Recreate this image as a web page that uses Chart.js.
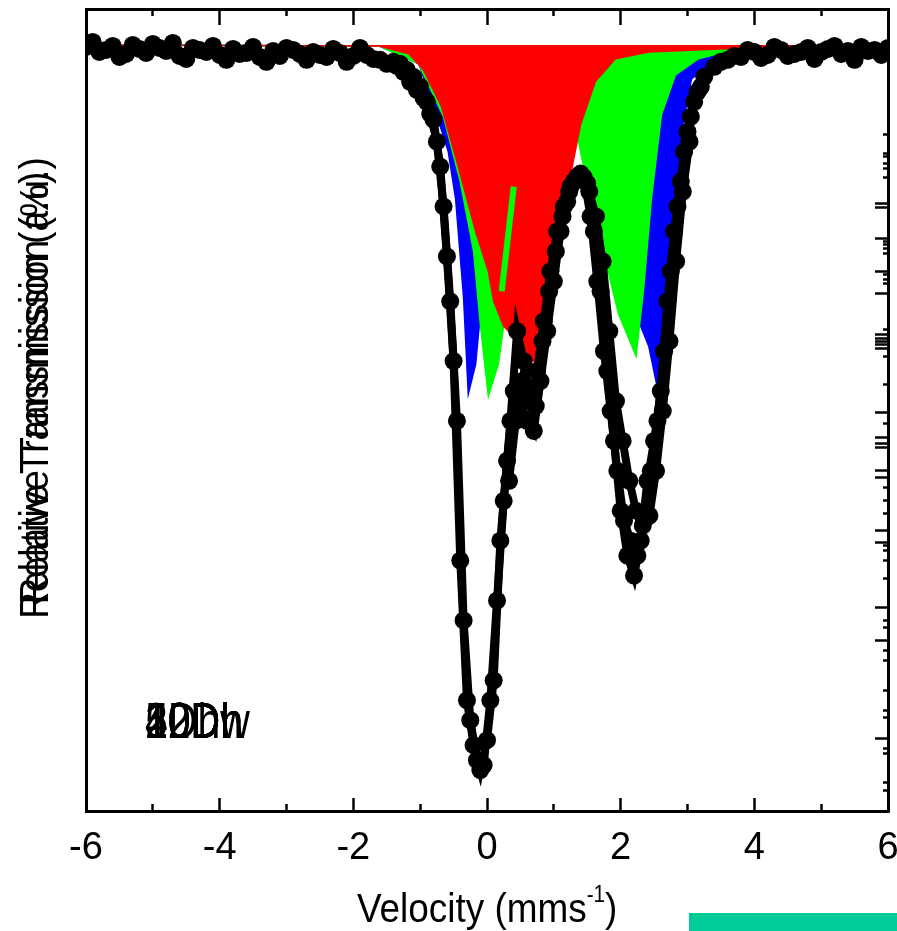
<!DOCTYPE html>
<html>
<head>
<meta charset="utf-8">
<script src="https://cdn.jsdelivr.net/npm/chart.js@4.4.0/dist/chart.umd.min.js"></script>
<style>
  body { margin: 0; background: #fff; }
  #wrap { position: relative; width: 897px; height: 931px; }
  #bar { position: absolute; left: 689px; top: 913px; width: 208px; height: 18px; background: #00cc99; }
</style>
</head>
<body>
<div id="wrap">
  <canvas id="spectrum"></canvas>
  <div id="bar"></div>
</div>
<script>
// measured spectrum, overlaid sweeps (velocity mm/s, relative transmission %)
const velA = [-6.0,-5.8,-5.6,-5.4,-5.2,-5.0,-4.8,-4.6,-4.4,-4.2,-4.0,-3.8,-3.6,-3.4,-3.2,-3.0,-2.8,-2.6,-2.4,-2.2,-2.0,-1.8,-1.6,-1.4,
  -1.3,-1.2,-1.1,-1.0,-0.9,-0.8,-0.7,-0.6,-0.5,-0.4,-0.3,-0.2,-0.1,0.0,0.1,0.2,0.3,0.4,0.5,0.6,0.7,0.8,0.9,1.0,1.1,1.2,1.3,1.4,1.5,1.6,1.7,1.8,1.9,2.0,2.1,2.2,2.3,2.4,2.5,2.6,2.7,2.8,2.9,3.0,3.1,3.2,
  3.4,3.6,3.8,4.0,4.2,4.4,4.6,4.8,5.0,5.2,5.4,5.6,5.8,6.0];
const transA = [99.96,99.86,99.98,99.82,99.92,100.02,99.88,99.78,99.94,99.86,99.80,99.92,99.84,99.76,99.88,99.94,99.82,99.86,99.76,99.84,99.78,99.80,99.70,99.66,
  99.62,99.50,99.36,99.16,98.86,98.50,97.56,95.76,93.66,89.66,86.86,85.96,85.46,86.06,87.26,90.06,91.66,93.06,92.86,92.46,92.26,93.26,94.26,95.26,96.26,96.86,97.26,97.42,97.22,96.26,95.06,93.46,92.06,90.66,89.76,89.36,90.06,91.26,92.06,93.06,94.86,96.26,97.26,98.26,98.86,99.16,
  99.56,99.70,99.76,99.86,99.80,99.90,99.82,99.94,99.86,99.98,99.88,99.96,99.90,99.94];

const velB = [-5.9,-5.7,-5.5,-5.3,-5.1,-4.9,-4.7,-4.5,-4.3,-4.1,-3.9,-3.7,-3.5,-3.3,-3.1,-2.9,-2.7,-2.5,-2.3,-2.1,-1.9,-1.7,-1.5,
  -1.35,-1.25,-1.15,-1.05,-0.95,-0.85,-0.75,-0.65,-0.55,-0.45,-0.35,-0.25,-0.15,-0.05,0.05,0.15,0.25,0.35,0.45,0.55,0.65,0.75,0.85,0.95,1.05,1.15,1.25,1.35,1.45,1.55,1.65,1.75,1.85,1.95,2.05,2.15,2.25,2.35,2.45,2.55,2.65,2.75,2.85,2.95,3.05,3.15,3.25,
  3.5,3.7,3.9,4.1,4.3,4.5,4.7,4.9,5.1,5.3,5.5,5.7,5.9];
const transB = [100.06,99.90,99.76,100.00,99.84,99.94,100.04,99.72,99.90,99.98,99.70,99.82,99.96,99.66,99.78,99.90,99.70,99.80,99.92,99.66,99.94,99.72,99.62,
  99.58,99.46,99.26,99.10,98.94,98.62,98.06,96.76,94.86,92.46,88.46,86.46,85.66,85.56,86.86,88.86,90.86,92.46,94.26,93.66,92.86,93.46,94.46,95.46,96.26,96.76,97.16,97.36,97.34,96.56,95.26,93.86,92.66,91.46,90.46,90.06,89.76,90.46,91.46,92.46,93.86,95.46,96.76,97.86,98.56,99.06,99.36,
  99.66,99.78,99.90,99.74,99.96,99.78,99.86,99.72,99.92,99.82,99.70,99.88,99.80];

const velC = [0.33,0.43,0.53,0.63,0.73,0.83,0.93,1.03,1.13,1.23,1.33,1.43,1.53,1.63,1.73,1.83,1.93,2.03,2.13,2.23,2.33,2.43,2.53,2.63,2.73,2.83,2.93,3.03];
const transC = [91.26,92.46,93.26,92.96,92.76,94.06,95.06,95.86,96.56,97.06,97.30,97.36,97.06,96.56,95.66,94.26,92.86,92.06,91.26,90.66,90.36,90.56,91.46,92.66,94.06,95.66,97.06,98.06];

// fitted sub-spectra
const velRed = [-6.0,-1.62,-1.17,-0.95,-0.68,-0.43,-0.17,0.02,0.10,0.25,0.47,0.70,0.81,0.95,1.07,1.26,1.40,1.62,1.92,2.42,3.47,6.0];
const transRed = [100.00,99.98,99.82,99.50,98.76,97.56,96.26,95.46,94.86,94.36,94.06,93.66,93.52,94.46,95.60,97.46,98.40,99.26,99.72,99.86,99.92,99.98];

const velGreen = [-6.0,-1.62,-1.02,-0.65,-0.40,-0.20,-0.10,0.02,0.17,0.32,0.47,0.62,0.85,1.07,1.29,1.37,1.52,1.67,1.97,2.23,2.34,2.46,2.61,2.82,3.16,3.46,4.06,6.0];
const transGreen = [100.00,99.98,99.62,98.56,97.26,95.86,94.40,92.96,93.60,95.06,96.26,97.46,98.66,99.06,98.46,98.06,97.06,96.22,94.60,93.76,95.06,96.92,98.60,99.40,99.72,99.82,99.92,99.98];

const velGreenTip = [0.22, 0.40];
const transGreenTip = [95.06, 97.16];

const velBlue = [-6.0,-1.62,-1.02,-0.83,-0.58,-0.47,-0.35,-0.28,-0.17,-0.10,0.02,0.17,0.62,1.07,1.37,1.67,1.97,2.27,2.42,2.56,2.67,2.82,2.91,3.06,3.46,4.06,6.0];
const transBlue = [100.00,99.98,99.62,98.92,97.86,96.92,94.92,93.00,93.60,94.60,95.86,96.46,97.06,97.86,98.26,98.06,96.86,94.46,93.96,93.06,94.26,96.92,98.26,99.32,99.76,99.90,99.98];

// axis ticks
const xMajorTicks = [-6,-4,-2,0,2,4,6];
const xMinorTicks = [-5,-3,-1,1,3,5];
const rightMajorTicks = [96.82,96.74,96.12,95.46,95.02,94.20,94.12,94.06,94.00,93.92,92.62,92.12,92.00,91.92,91.46,91.32,90.26,90.02,88.72,88.06,86.10];
const rightMinorTicks = [98.20,97.82,97.76,97.62,97.52,97.34,96.06,96.00,95.92,95.82,95.40,95.30,95.22,94.30,93.76,93.20,92.40,91.12,90.86,90.60,89.96,89.86,89.66,89.30,88.46,88.32,87.86,87.66,87.06,86.66,86.52,85.90,85.80,85.22,85.06];

const yTitles = ['Relative Transmission (a.u.)', 'Relative Transmission (%)'];
const sampleLabels = ['5Dh', '10Dh', '20Dh', '40Dh', '12Dw'];

const yMin = 84.64, yMax = 100.72;

function pts(xs, ys) {
  return xs.map((x, i) => ({ x: x, y: ys[i] }));
}

const tickFont = { family: "'Liberation Sans Narrow', 'Liberation Sans', Arial, sans-serif", size: 38 };

function tickAxis(pos, vals, len, border) {
  return {
    type: 'linear', axis: 'x', position: pos, min: -6, max: 6,
    afterBuildTicks: s => { s.ticks = vals.map(v => ({ value: v })); },
    ticks: { display: false, autoSkip: false },
    grid: { drawOnChartArea: false, tickLength: len, tickWidth: 2.5, tickColor: '#000' },
    border: { display: border, color: '#000', width: 3 }
  };
}

function rightAxis(vals, len, border) {
  return {
    type: 'linear', axis: 'y', position: { x: 6 }, min: yMin, max: yMax,
    afterBuildTicks: s => { s.ticks = vals.map(v => ({ value: v })); },
    ticks: { display: false, autoSkip: false },
    grid: { drawOnChartArea: false, tickLength: len, tickWidth: 2.5, tickColor: '#000' },
    border: { display: border, color: '#000', width: 3 }
  };
}

// overlapped titles and labels, drawn as canvas text
const textPlugin = {
  id: 'overlayText',
  afterDraw(chart) {
    const ctx = chart.ctx;
    ctx.save();
    ctx.fillStyle = '#000';

    ctx.font = '40px "Liberation Sans", Arial, sans-serif';
    ctx.textAlign = 'center';
    ctx.textBaseline = 'middle';
    yTitles.forEach(t => {
      ctx.save();
      ctx.translate(37, 388);
      ctx.rotate(-Math.PI / 2);
      ctx.scale(0.93, 1);
      ctx.fillText(t, 0, 0);
      ctx.restore();
    });

    ctx.textAlign = 'left';
    ctx.textBaseline = 'alphabetic';
    ctx.save();
    ctx.translate(357, 922);
    ctx.scale(0.9, 1);
    ctx.font = '41px "Liberation Sans", Arial, sans-serif';
    const main = 'Velocity (mms';
    ctx.fillText(main, 0, 0);
    let w = ctx.measureText(main).width;
    ctx.font = '23px "Liberation Sans", Arial, sans-serif';
    ctx.fillText('-1', w, -20);
    w += ctx.measureText('-1').width;
    ctx.font = '41px "Liberation Sans", Arial, sans-serif';
    ctx.fillText(')', w, 0);
    ctx.restore();

    ctx.save();
    ctx.translate(145, 738);
    ctx.scale(0.82, 1);
    ctx.font = '50px "Liberation Sans", Arial, sans-serif';
    sampleLabels.forEach(t => ctx.fillText(t, 0, 0));
    ctx.restore();

    ctx.restore();
  }
};

const dataSet = data => ({
  data: data, borderColor: '#000', backgroundColor: '#000', borderWidth: 8,
  pointRadius: 9, pointBorderWidth: 0, pointBackgroundColor: '#000', tension: 0, fill: false, clip: 0,
  xAxisID: 'x', yAxisID: 'y'
});

const fillSet = (data, color) => ({
  data: data, showLine: true, borderColor: color, backgroundColor: color,
  borderWidth: 1.5, pointRadius: 0, tension: 0, fill: { value: 100 }, clip: 0,
  xAxisID: 'x', yAxisID: 'y'
});

const spectrumChart = new Chart(document.getElementById('spectrum'), {
  type: 'line',
  data: {
    datasets: [
      dataSet(pts(velA, transA)),
      dataSet(pts(velB, transB)),
      dataSet(pts(velC, transC)),
      { data: pts(velGreenTip, transGreenTip), borderColor: '#00ff00', borderWidth: 6, pointRadius: 0,
        fill: false, clip: 0, xAxisID: 'x', yAxisID: 'y' },
      fillSet(pts(velRed, transRed), '#ff0000'),
      fillSet(pts(velGreen, transGreen), '#00ff00'),
      fillSet(pts(velBlue, transBlue), '#0000ff')
    ]
  },
  options: {
    responsive: true,
    maintainAspectRatio: false,
    animation: false,
    layout: { padding: { left: 86, right: 7, top: 7, bottom: 0 } },
    plugins: { legend: { display: false }, tooltip: { enabled: false } },
    scales: {
      x: {
        type: 'linear', position: 'bottom', min: -6, max: 6,
        afterBuildTicks: s => { s.ticks = xMajorTicks.map(v => ({ value: v })); },
        ticks: { font: tickFont, color: '#000', padding: 28, autoSkip: false, maxRotation: 0 },
        grid: { drawOnChartArea: false, tickLength: -13, tickWidth: 2.5, tickColor: '#000' },
        border: { color: '#000', width: 3 },
        afterFit: s => { s.height = 120; s.paddingLeft = 0; s.paddingRight = 0; }
      },
      xMinor: tickAxis({ y: yMin }, xMinorTicks, -7, false),
      xTop: tickAxis({ y: yMax }, xMajorTicks, 14, true),
      xTopMinor: tickAxis({ y: yMax }, xMinorTicks, 7, false),
      y: {
        type: 'linear', position: 'left', min: yMin, max: yMax,
        ticks: { display: false },
        grid: { drawOnChartArea: false, drawTicks: false },
        border: { color: '#000', width: 3 },
        afterFit: s => { s.width = 0; }
      },
      yRight: rightAxis(rightMajorTicks, 12, true),
      yRightMinor: rightAxis(rightMinorTicks, 5, false)
    }
  },
  plugins: [textPlugin]
});
</script>
</body>
</html>
